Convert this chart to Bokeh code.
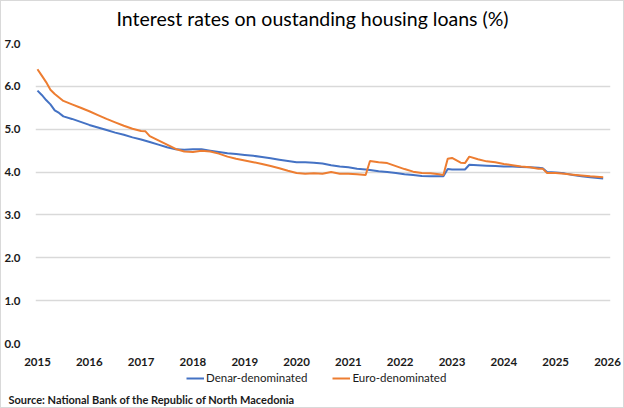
from bokeh.plotting import figure
from bokeh.layouts import column
from bokeh.models import (Range1d, FixedTicker, NumeralTickFormatter, CustomJSTickFormatter,
                          Legend, LegendItem, Title)
from bokeh.embed import file_html
from bokeh.resources import INLINE

# ---- data ----
dates = ["2015-01", "2015-02", "2015-03", "2015-04", "2015-05", "2015-06", "2015-07", "2015-09",
         "2015-11", "2016-01", "2016-03", "2016-05", "2016-07", "2016-09", "2016-11", "2017-01",
         "2017-02", "2017-03", "2017-05", "2017-07", "2017-09", "2017-11", "2018-01", "2018-03",
         "2018-05", "2018-07", "2018-09", "2018-11", "2019-01", "2019-03", "2019-05", "2019-07",
         "2019-09", "2019-11", "2020-01", "2020-03", "2020-05", "2020-07", "2020-09", "2020-11",
         "2021-01", "2021-03", "2021-05", "2021-06", "2021-08", "2021-10", "2021-12", "2022-02",
         "2022-04", "2022-06", "2022-08", "2022-10", "2022-11", "2022-12", "2023-01", "2023-03",
         "2023-04", "2023-05", "2023-07", "2023-09", "2023-11", "2024-01", "2024-03", "2024-05",
         "2024-07", "2024-09", "2024-10", "2024-11", "2025-01", "2025-03", "2025-05", "2025-07",
         "2025-09", "2025-12"]
denar = [5.90, 5.80, 5.68, 5.58, 5.44, 5.38, 5.30, 5.24,
         5.17, 5.10, 5.04, 4.98, 4.92, 4.87, 4.81, 4.76,
         4.73, 4.70, 4.64, 4.58, 4.53, 4.52, 4.53, 4.53,
         4.50, 4.47, 4.44, 4.42, 4.40, 4.38, 4.35, 4.32,
         4.29, 4.26, 4.23, 4.23, 4.22, 4.20, 4.16, 4.13,
         4.11, 4.08, 4.06, 4.05, 4.02, 4.00, 3.98, 3.95,
         3.93, 3.91, 3.90, 3.90, 3.90, 4.07, 4.06, 4.06,
         4.06, 4.17, 4.16, 4.15, 4.14, 4.13, 4.13, 4.12,
         4.11, 4.10, 4.09, 4.00, 3.99, 3.97, 3.93, 3.90,
         3.88, 3.85]
euro = [6.40, 6.25, 6.10, 5.92, 5.82, 5.74, 5.66, 5.58,
        5.50, 5.42, 5.33, 5.24, 5.16, 5.08, 5.01, 4.96,
        4.95, 4.84, 4.74, 4.64, 4.54, 4.48, 4.47, 4.50,
        4.48, 4.43, 4.36, 4.31, 4.27, 4.23, 4.19, 4.14,
        4.09, 4.03, 3.98, 3.96, 3.97, 3.96, 4.00, 3.96,
        3.96, 3.95, 3.93, 4.26, 4.23, 4.21, 4.14, 4.07,
        4.01, 3.98, 3.97, 3.95, 3.93, 4.31, 4.33, 4.22,
        4.21, 4.36, 4.30, 4.25, 4.23, 4.19, 4.16, 4.13,
        4.11, 4.08, 4.08, 3.98, 3.98, 3.96, 3.94, 3.92,
        3.90, 3.88]
year_ticks = [2015, 2016, 2017, 2018, 2019, 2020, 2021, 2022, 2023, 2024, 2025, 2026]
y_ticks = [0, 1, 2, 3, 4, 5, 6, 7]

x = [int(d[:4]) + (int(d[5:7]) - 1) / 12 for d in dates]

FONT = "Lato"
BLUE = "#4472C4"
ORANGE = "#ED7D31"
GRID = "#d9d9d9"
TXT = "#1a1a1a"

X0, X1 = 2014.962, 2026.058
W = 622  # inner width (1px light border on each side)


def blank(fig):
    fig.axis.visible = False
    fig.grid.visible = False
    fig.outline_line_color = None
    fig.background_fill_color = "white"
    fig.border_fill_color = "white"


# header: chart title
h = figure(width=W, height=35, output_backend="svg", toolbar_location=None,
           x_range=Range1d(X0, X1), y_range=Range1d(0, 1),
           min_border_left=34, min_border_right=13, min_border_top=29, min_border_bottom=0,
           title=None)
blank(h)
h.add_layout(Title(text="Interest rates on oustanding housing loans (%)", align="left",
                   text_font=FONT, text_font_size="19.5px", text_font_style="normal",
                   text_color="#000000", standoff=0, offset=81, vertical_align="middle"), "above")

# main chart
p = figure(width=W, height=332, output_backend="svg", toolbar_location=None,
           x_range=Range1d(X0, X1), y_range=Range1d(0, 7),
           min_border_left=34, min_border_right=13, min_border_top=7, min_border_bottom=25,
           title=None)
p.outline_line_color = None
p.background_fill_color = "white"
p.border_fill_color = "white"

r1 = p.line(x, denar, line_color=BLUE, line_width=2)
r2 = p.line(x, euro, line_color=ORANGE, line_width=2)

p.xaxis.ticker = FixedTicker(ticks=year_ticks)
p.xaxis.formatter = CustomJSTickFormatter(code="return tick.toFixed(0);")
p.yaxis.ticker = FixedTicker(ticks=y_ticks)
p.yaxis.formatter = NumeralTickFormatter(format="0.0")
for ax in (p.xaxis[0], p.yaxis[0]):
    ax.axis_line_color = None
    ax.major_tick_line_color = None
    ax.minor_tick_line_color = None
    ax.major_label_text_font = FONT
    ax.major_label_text_font_size = "11.5px"
    ax.major_label_text_font_style = "bold"
    ax.major_label_text_color = TXT
p.xaxis.major_label_standoff = 8
p.yaxis.major_label_standoff = 9

p.xgrid.grid_line_color = None
p.ygrid.grid_line_color = GRID
p.ygrid.grid_line_width = 1.3

# footer: legend and source note (series drawn off-view, only for the legend keys)
f = figure(width=W, height=39, output_backend="svg", toolbar_location=None,
           x_range=Range1d(X0, X1), y_range=Range1d(100, 140),
           min_border_left=34, min_border_right=13, min_border_top=0, min_border_bottom=17,
           title=None)
blank(f)

k1 = f.line(x, denar, line_color=BLUE, line_width=2)
k2 = f.line(x, euro, line_color=ORANGE, line_width=2)
legend = Legend(items=[LegendItem(label="Denar-denominated", renderers=[k1]),
                       LegendItem(label="Euro-denominated", renderers=[k2])],
                orientation="horizontal", location=(151, 6),
                label_text_font=FONT, label_text_font_size="11.5px",
                label_text_color=TXT, glyph_width=18, glyph_height=12,
                label_standoff=2, spacing=25, padding=0, margin=0,
                border_line_color=None, background_fill_alpha=0)
f.add_layout(legend)

f.add_layout(Title(text="Source: National Bank of the Republic of North Macedonia", align="left",
                   text_font=FONT, text_font_size="11px", text_font_style="bold",
                   text_color=TXT, offset=-27, standoff=0), "below")

page = column(h, p, f, spacing=0)
page.styles = {"border": "1px solid #d9d9d9", "box-sizing": "content-box",
               "background-color": "white"}

open("out.html", "w").write(file_html(page, INLINE))
